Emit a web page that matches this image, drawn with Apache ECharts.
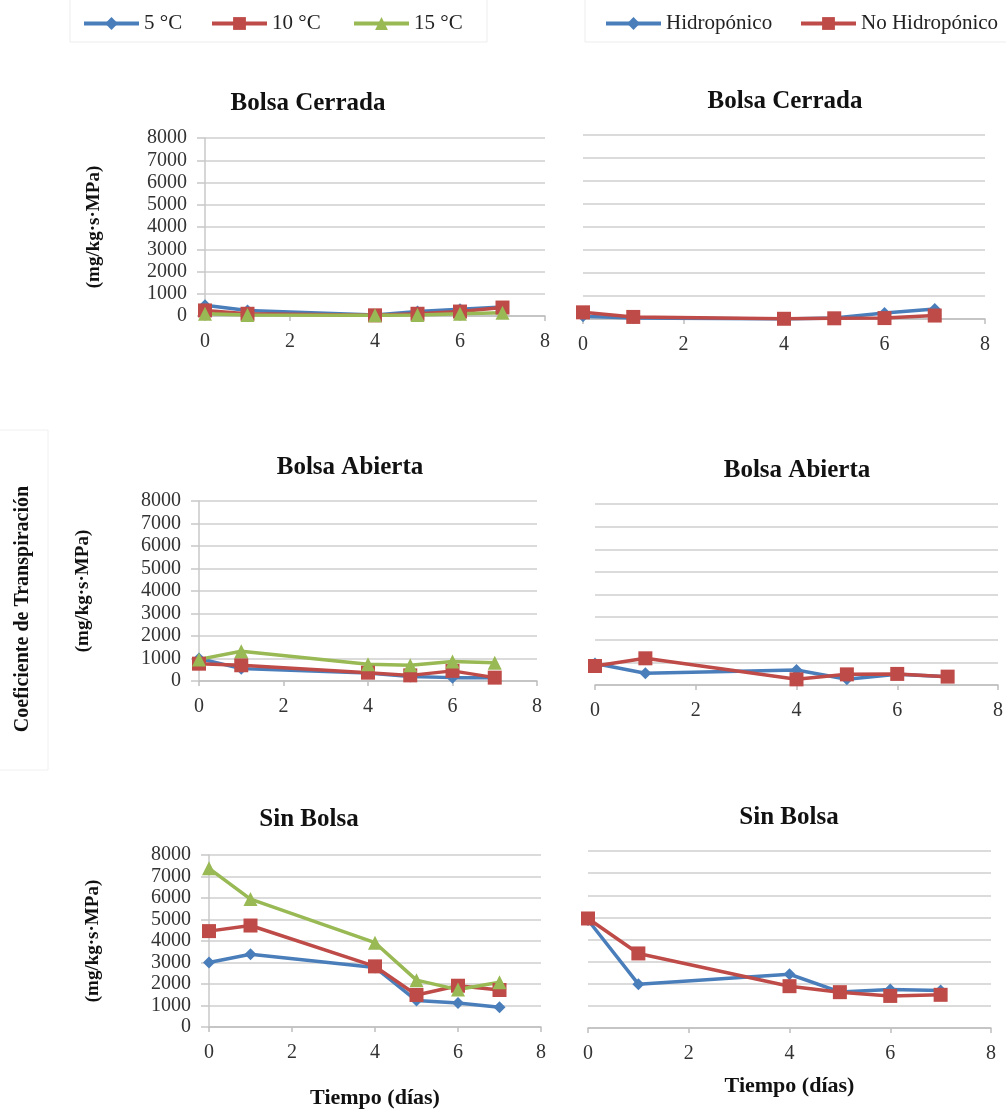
<!DOCTYPE html>
<html>
<head>
<meta charset="utf-8">
<title>Coeficiente de Transpiración</title>
<script src="https://cdn.jsdelivr.net/npm/echarts@6/dist/echarts.min.js"></script>
<style>
  html, body { margin: 0; padding: 0; background: #ffffff; }
  #chart { width: 1006px; height: 1110px; }
</style>
</head>
<body>
<div id="chart"></div>
<script>
// Sampling days (x axis)
const days = [0, 1, 4, 5, 6, 7];

// Left column: storage temperature series
const tempNames = ['5 °C', '10 °C', '15 °C'];
const cerrada5 = [480, 250, 50, 200, 300, 400];
const cerrada10 = [250, 100, 30, 100, 200, 380];
const cerrada15 = [100, 50, 30, 50, 100, 150];
const abierta5 = [1000, 550, 350, 200, 150, 150];
const abierta10 = [770, 700, 370, 250, 450, 150];
const abierta15 = [960, 1320, 740, 700, 870, 810];
const sinBolsa5 = [3000, 3380, 2770, 1230, 1120, 920];
const sinBolsa10 = [4460, 4720, 2820, 1490, 1920, 1720];
const sinBolsa15 = [7380, 5950, 3920, 2180, 1740, 2080];

// Right column: cultivation system series
const cultNames = ['Hidropónico', 'No Hidropónico'];
const cerradaHidro = [120, 40, 0, 40, 260, 430];
const cerradaNoHidro = [290, 90, 10, 30, 40, 150];
const abiertaHidro = [950, 520, 660, 250, 470, 370];
const abiertaNoHidro = [840, 1180, 250, 470, 490, 370];
const sinBolsaHidro = [4880, 1980, 2430, 1630, 1740, 1700];
const sinBolsaNoHidro = [4950, 3370, 1890, 1620, 1450, 1500];

const panelTitles = ['Bolsa Cerrada', 'Bolsa Abierta', 'Sin Bolsa'];
const yName = '(mg/kg·s·MPa)';
const xName = 'Tiempo (días)';
const yMin = 0, yMax = 8000, yStep = 1000;
const xMin = 0, xMax = 8, xStep = 2;

const SERIF = "'Liberation Serif', 'Times New Roman', serif";
const BLUE = '#4a7ebb', RED = '#be4b48', GREEN = '#98b954';
const seriesStyle = {
  '5 °C': { color: BLUE, symbol: 'diamond', size: 12 },
  '10 °C': { color: RED, symbol: 'rect', size: 14 },
  '15 °C': { color: GREEN, symbol: 'triangle', size: 14 },
  'Hidropónico': { color: BLUE, symbol: 'diamond', size: 12 },
  'No Hidropónico': { color: RED, symbol: 'rect', size: 14 }
};

// Plot rectangles of the six panels (left, top, width, height)
const panels = [
  { l: 205, t: 138, w: 340, h: 178 },
  { l: 583, t: 135, w: 402, h: 184 },
  { l: 199, t: 501, w: 338, h: 180 },
  { l: 595, t: 504, w: 403, h: 181 },
  { l: 209, t: 855, w: 332, h: 173 },
  { l: 588, t: 851, w: 403, h: 177 }
];
const titlePos = [
  { x: 308, y: 91 }, { x: 785, y: 89 },
  { x: 350, y: 455 }, { x: 797, y: 458 },
  { x: 309, y: 807 }, { x: 789, y: 805 }
];
const yNameGap = [101, 0, 106, 0, 106, 0];

const panelData = [
  [cerrada5, cerrada10, cerrada15],
  [cerradaHidro, cerradaNoHidro],
  [abierta5, abierta10, abierta15],
  [abiertaHidro, abiertaNoHidro],
  [sinBolsa5, sinBolsa10, sinBolsa15],
  [sinBolsaHidro, sinBolsaNoHidro]
];

const grid = [], xAxis = [], yAxis = [], series = [], title = [];
panels.forEach((p, i) => {
  const isLeft = i % 2 === 0;
  const isBottom = i >= 4;
  grid.push({ left: p.l, top: p.t, width: p.w, height: p.h, containLabel: false });
  title.push({
    text: panelTitles[Math.floor(i / 2)],
    left: titlePos[i].x, top: titlePos[i].y, textAlign: 'center', padding: 0,
    textStyle: { fontFamily: SERIF, fontSize: 25, fontWeight: 'bold', color: '#111' }
  });
  xAxis.push({
    type: 'value', gridIndex: i, min: xMin, max: xMax, interval: xStep,
    name: isBottom ? xName : '', nameLocation: 'middle', nameGap: i === 4 ? 60 : 47,
    nameTextStyle: { fontFamily: SERIF, fontSize: 22, fontWeight: 'bold', color: '#111' },
    axisLine: { show: true, onZero: false, lineStyle: { color: '#bfbfbf', width: 1.5 } },
    axisTick: { show: true, length: 5, lineStyle: { color: '#bfbfbf', width: 1.5 } },
    axisLabel: { margin: 16, fontFamily: SERIF, fontSize: 20, color: '#333' },
    splitLine: { show: false }
  });
  yAxis.push({
    type: 'value', gridIndex: i, min: yMin, max: yMax, interval: yStep,
    name: isLeft ? yName : '', nameLocation: 'middle', nameRotate: 90, nameGap: yNameGap[i],
    nameTextStyle: { fontFamily: SERIF, fontSize: 19, fontWeight: 'bold', color: '#111' },
    axisLine: { show: isLeft, lineStyle: { color: '#c8c8c8', width: 1.5 } },
    axisTick: { show: isLeft, length: 8, lineStyle: { color: '#c8c8c8', width: 1.5 } },
    axisLabel: {
      show: isLeft, margin: 18, fontFamily: SERIF, fontSize: 20, color: '#333',
      formatter: v => String(v)
    },
    splitLine: { show: true, lineStyle: { color: '#cfcfcf', width: 1.5 } }
  });
  const names = isLeft ? tempNames : cultNames;
  panelData[i].forEach((vals, k) => {
    const st = seriesStyle[names[k]];
    series.push({
      type: 'line', name: names[k], xAxisIndex: i, yAxisIndex: i,
      data: days.map((d, j) => [d, vals[j]]),
      symbol: st.symbol, symbolSize: st.size,
      lineStyle: { color: st.color, width: 3.5 },
      itemStyle: { color: st.color },
      color: st.color
    });
  });
});

// One legend entry per component so each sits where it belongs
const legendSpots = [
  { name: '5 °C', left: 82 }, { name: '10 °C', left: 210 }, { name: '15 °C', left: 352 },
  { name: 'Hidropónico', left: 604 }, { name: 'No Hidropónico', left: 799 }
];
const legend = legendSpots.map(s => ({
  data: [s.name], left: s.left, top: 13, padding: 0,
  itemWidth: 55, itemHeight: 16, itemGap: 0,
  selectedMode: false,
  lineStyle: { width: 4 },
  textStyle: { fontFamily: SERIF, fontSize: 21, color: '#222' }
}));

const chart = echarts.init(document.getElementById('chart'), null, { renderer: 'canvas' });
chart.setOption({
  backgroundColor: '#ffffff',
  animation: false,
  title, legend, grid, xAxis, yAxis, series,
  graphic: [
    { type: 'rect', shape: { x: 70, y: -2, width: 417, height: 44 }, style: { fill: 'none', stroke: '#ededed', lineWidth: 1 } },
    { type: 'rect', shape: { x: 585, y: -2, width: 425, height: 44 }, style: { fill: 'none', stroke: '#ededed', lineWidth: 1 } },
    { type: 'rect', shape: { x: -2, y: 430, width: 50, height: 340 }, style: { fill: 'none', stroke: '#f0f0f0', lineWidth: 1 } },
    {
      type: 'text', x: 23, y: 609, rotation: Math.PI / 2,
      style: {
        text: 'Coeficiente de Transpiración', fontFamily: SERIF, fontSize: 20, fontWeight: 'bold',
        fill: '#111', align: 'center', verticalAlign: 'middle'
      }
    }
  ]
});
</script>
</body>
</html>
